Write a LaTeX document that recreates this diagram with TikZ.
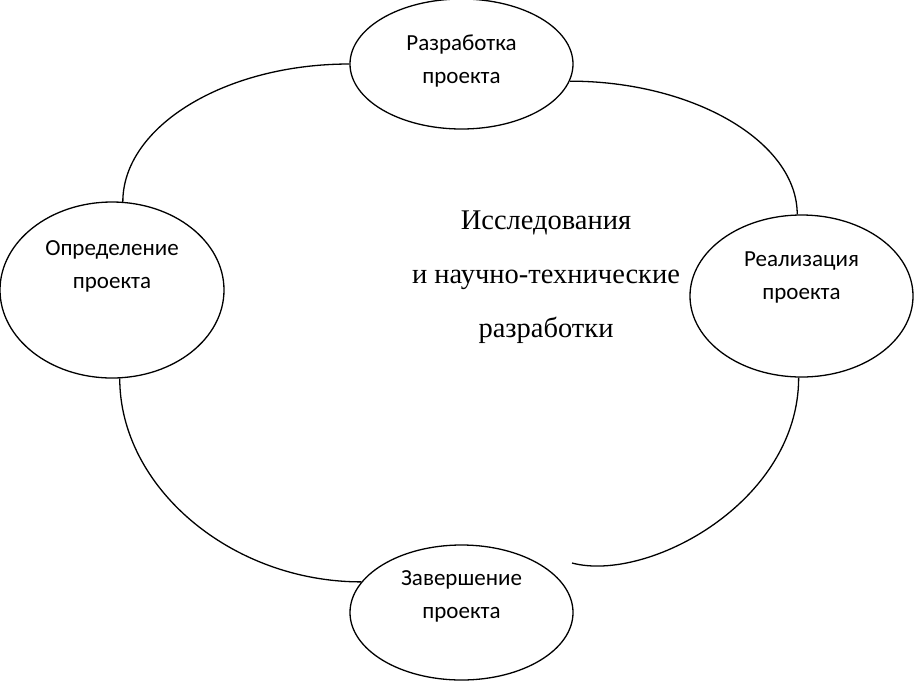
\documentclass[tikz,border=0pt]{standalone}
\usepackage{fontspec}
\setmainfont{Liberation Serif}
\newfontfamily\ellfont{Carlito}
\usetikzlibrary{shapes.geometric}
\tikzset{
  stage/.style={ellipse, draw=black, line width=1.3pt, inner sep=0pt},
  stagetxt/.style={align=center, inner sep=0pt,
                   font=\ellfont\fontsize{23}{33}\selectfont},
  coretxt/.style={align=center, inner sep=0pt,
                  font=\fontsize{28.5}{54}\selectfont},
  link/.style={draw=black, line width=1.3pt},
}

\begin{document}
\begin{tikzpicture}[x=1pt,y=-1pt]
  \useasboundingbox (0,0) rectangle (915,697);
  % --- project stages ---
  \node[stage, minimum width=223pt, minimum height=130pt] (dev)  at (461.5,64) {};
  \node[stage, minimum width=224pt, minimum height=176pt] (def)  at (112,290) {};
  \node[stage, minimum width=223pt, minimum height=162pt] (real) at (801.5,296) {};
  \node[stage, minimum width=223pt, minimum height=135pt] (fin)  at (461.5,612.5) {};

  \node[stagetxt] (dev-t)  at ([yshift=3pt]dev.center)   {Разработка\\проекта};
  \node[stagetxt] (def-t)  at ([yshift=24pt]def.center)  {Определение\\проекта};
  \node[stagetxt] (real-t) at ([yshift=19pt]real.center) {Реализация\\проекта};
  \node[stagetxt] (fin-t)  at ([yshift=16pt]fin.center)  {Завершение\\проекта};

  % --- centre ---
  \node[coretxt] (core) at (546,277) {Исследования\\и научно-технические\\разработки};

  % --- cycle arcs ---
  \coordinate (gap) at (572,563);
  \draw[link] (dev.west) .. controls +(-125,0) and +(0,-75) .. (def.83);
  \draw[link] (dev.-9) .. controls +(123,0) and +(0,-73) .. (real.93);
  \draw[link] (real.268) .. controls +(0,125) and +(75,20) .. (gap);
  \draw[link] (def.275) .. controls +(0,109) and +(-130,0) .. (fin.163);
\end{tikzpicture}
\end{document}
